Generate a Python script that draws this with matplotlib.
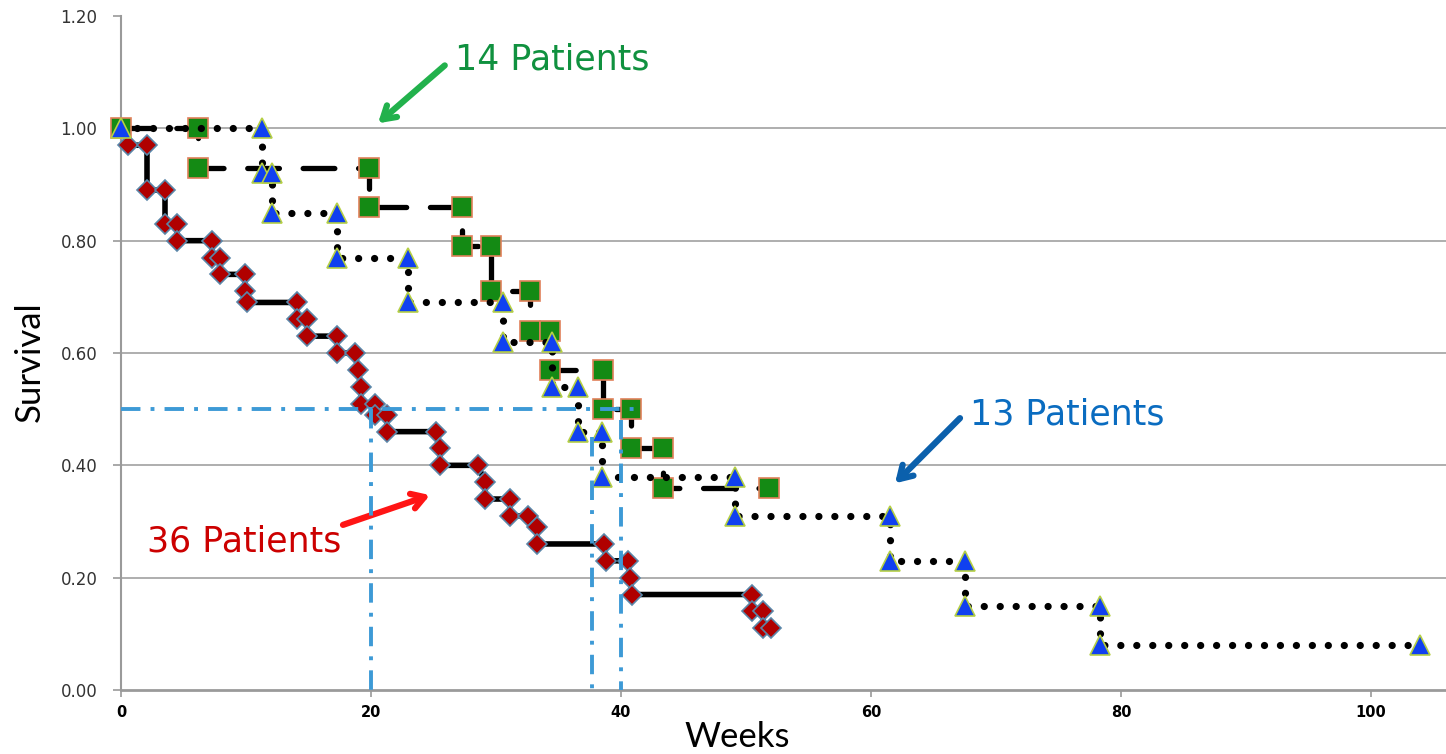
import matplotlib
matplotlib.use("Agg")
import matplotlib.pyplot as plt

# ---- data (step-curve vertices) ----
weeks_36 = [0.56, 2.08, 2.08, 3.52, 3.52, 4.48, 4.48, 7.28, 7.28, 7.92, 7.92, 9.92, 9.92,
            10.08, 14.08, 14.08, 14.88, 14.88, 17.28, 17.28, 18.72, 18.96, 19.2, 19.2,
            20.3, 20.3, 21.28, 21.28, 25.2, 25.52, 25.52, 28.56, 29.12, 29.12, 31.12,
            31.12, 32.56, 33.28, 33.28, 38.64, 38.8, 40.56, 40.72, 40.88, 50.48, 50.48,
            51.36, 51.36, 52.0]
surv_36 = [0.97, 0.97, 0.89, 0.89, 0.83, 0.83, 0.80, 0.80, 0.77, 0.77, 0.74, 0.74, 0.71,
           0.69, 0.69, 0.66, 0.66, 0.63, 0.63, 0.60, 0.60, 0.57, 0.54, 0.51,
           0.51, 0.49, 0.49, 0.46, 0.46, 0.43, 0.40, 0.40, 0.37, 0.34, 0.34,
           0.31, 0.31, 0.29, 0.26, 0.26, 0.23, 0.23, 0.20, 0.17, 0.17, 0.14,
           0.14, 0.11, 0.11]

weeks_14 = [0, 6.16, 6.16, 19.84, 19.84, 27.28, 27.28, 29.6, 29.6, 32.72, 32.72, 34.32,
            34.32, 38.56, 38.56, 40.8, 40.8, 43.36, 43.36, 51.84]
surv_14 = [1.00, 1.00, 0.93, 0.93, 0.86, 0.86, 0.79, 0.79, 0.71, 0.71, 0.64, 0.64,
           0.57, 0.57, 0.50, 0.50, 0.43, 0.43, 0.36, 0.36]

weeks_13 = [0, 11.28, 11.28, 12.08, 12.08, 17.28, 17.28, 22.96, 22.96, 30.56, 30.56,
            34.48, 34.48, 36.56, 36.56, 38.48, 38.48, 49.12, 49.12, 61.52, 61.52,
            67.52, 67.52, 78.32, 78.32, 103.92]
surv_13 = [1.00, 1.00, 0.92, 0.92, 0.85, 0.85, 0.77, 0.77, 0.69, 0.69, 0.62,
           0.62, 0.54, 0.54, 0.46, 0.46, 0.38, 0.38, 0.31, 0.31, 0.23,
           0.23, 0.15, 0.15, 0.08, 0.08]

median_level = 0.5
median_weeks = [20.0, 37.7, 40.0]
median_tops = [0.5, 0.45, 0.48]
median_h_end = 41.0

y_ticks = [0.0, 0.2, 0.4, 0.6, 0.8, 1.0, 1.2]
y_tick_labels = ["0.00", "0.20", "0.40", "0.60", "0.80", "1.00", "1.20"]
x_ticks = [0, 20, 40, 60, 80, 100]
x_tick_labels = ["0", "20", "40", "60", "80", "100"]

# ---- figure ----
W, H = 1446, 754
fig = plt.figure(figsize=(W / 100, H / 100), dpi=100)
ax = fig.add_axes([121 / W, 64 / H, 1325 / W, 674 / H])
ax.set_xlim(0, 106)
ax.set_ylim(0, 1.2)

for yv in y_ticks[1:-1]:
    ax.axhline(yv, color="#a8a8a8", lw=1.3, zorder=0)

# green (14 patients) - dashed
ax.plot(weeks_14, surv_14, color="black", lw=3.8, linestyle=(0, (6, 4.5)),
        solid_capstyle="round", dash_capstyle="round", zorder=2, clip_on=False)
ax.plot(weeks_14, surv_14, linestyle="none", marker="s", markersize=14,
        markerfacecolor="#148a14", markeredgecolor="#e0805a", markeredgewidth=1.2,
        zorder=3, clip_on=False)

# blue (13 patients) - dotted
ax.plot(weeks_13, surv_13, color="black", lw=5.2, linestyle=(0, (0.01, 2.2)),
        dash_capstyle="round", zorder=4, clip_on=False)
ax.plot(weeks_13, surv_13, linestyle="none", marker="^", markersize=14.5,
        markerfacecolor="#1040f0", markeredgecolor="#b5cf45", markeredgewidth=1.2,
        zorder=5, clip_on=False)

# red (36 patients) - solid
ax.plot(weeks_36, surv_36, color="black", lw=4.0, zorder=2, clip_on=False)
ax.plot(weeks_36, surv_36, linestyle="none", marker="D", markersize=9.8,
        markerfacecolor="#b00000", markeredgecolor="#5a86a8", markeredgewidth=1.2,
        zorder=3, clip_on=False)

# median reference lines
ref_c = "#3d9ad6"
ref_ls = (0, (5.0, 2.6, 1.0, 2.6))
ax.plot([0, median_h_end], [median_level, median_level], color=ref_c, lw=2.8,
        linestyle=ref_ls, zorder=6)
for xw, top in zip(median_weeks, median_tops):
    ax.plot([xw, xw], [top, 0], color=ref_c, lw=2.8, linestyle=ref_ls, zorder=6)

# axes styling
for s in ["top", "right"]:
    ax.spines[s].set_visible(False)
ax.spines["left"].set_color("#9a9a9a")
ax.spines["left"].set_linewidth(1.5)
ax.spines["bottom"].set_color("#9a9a9a")
ax.spines["bottom"].set_linewidth(2)

ax.set_yticks(y_ticks)
ax.set_yticklabels(y_tick_labels, fontsize=12, color="#333333", family="DejaVu Sans")
ax.set_xticks(x_ticks)
ax.set_xticklabels(x_tick_labels, fontsize=10.5, fontweight="bold", color="black",
                   family="DejaVu Sans")
ax.tick_params(axis="y", length=6, color="#9a9a9a", width=1.2, pad=11)
ax.tick_params(axis="x", length=5, color="#9a9a9a", width=1.2, pad=6)

fig.text(737 / W, 1 - 737 / H, "Weeks", ha="center", va="center", fontsize=25,
         family="Lato", color="black")
fig.text(30 / W, 1 - 362 / H, "Survival", ha="center", va="center", fontsize=25,
         family="Lato", rotation=90, color="black")

# annotations
ax.annotate("", xy=(20.56, 1.009), xytext=(25.9, 1.112),
            arrowprops=dict(arrowstyle="->,head_length=0.9,head_width=0.55",
                            color="#22b14c", lw=4.5, shrinkA=0, shrinkB=0),
            annotation_clip=False)
ax.text(26.72, 1.105, "14 Patients", color="#10913f", fontsize=25,
        family="DejaVu Sans", ha="left", va="baseline")

ax.annotate("", xy=(61.92, 0.368), xytext=(67.12, 0.484),
            arrowprops=dict(arrowstyle="->,head_length=0.9,head_width=0.55",
                            color="#0b60ac", lw=4.5, shrinkA=0, shrinkB=0))
ax.text(67.92, 0.473, "13 Patients", color="#0a6cc0", fontsize=25,
        family="DejaVu Sans", ha="left", va="baseline")

ax.annotate("", xy=(24.72, 0.347), xytext=(17.76, 0.294),
            arrowprops=dict(arrowstyle="->,head_length=0.9,head_width=0.55",
                            color="#ff1515", lw=4.5, shrinkA=0, shrinkB=0))
ax.text(2.08, 0.246, "36 Patients", color="#cc0000", fontsize=25,
        family="DejaVu Sans", ha="left", va="baseline")

fig.savefig("out.png", dpi=100)
